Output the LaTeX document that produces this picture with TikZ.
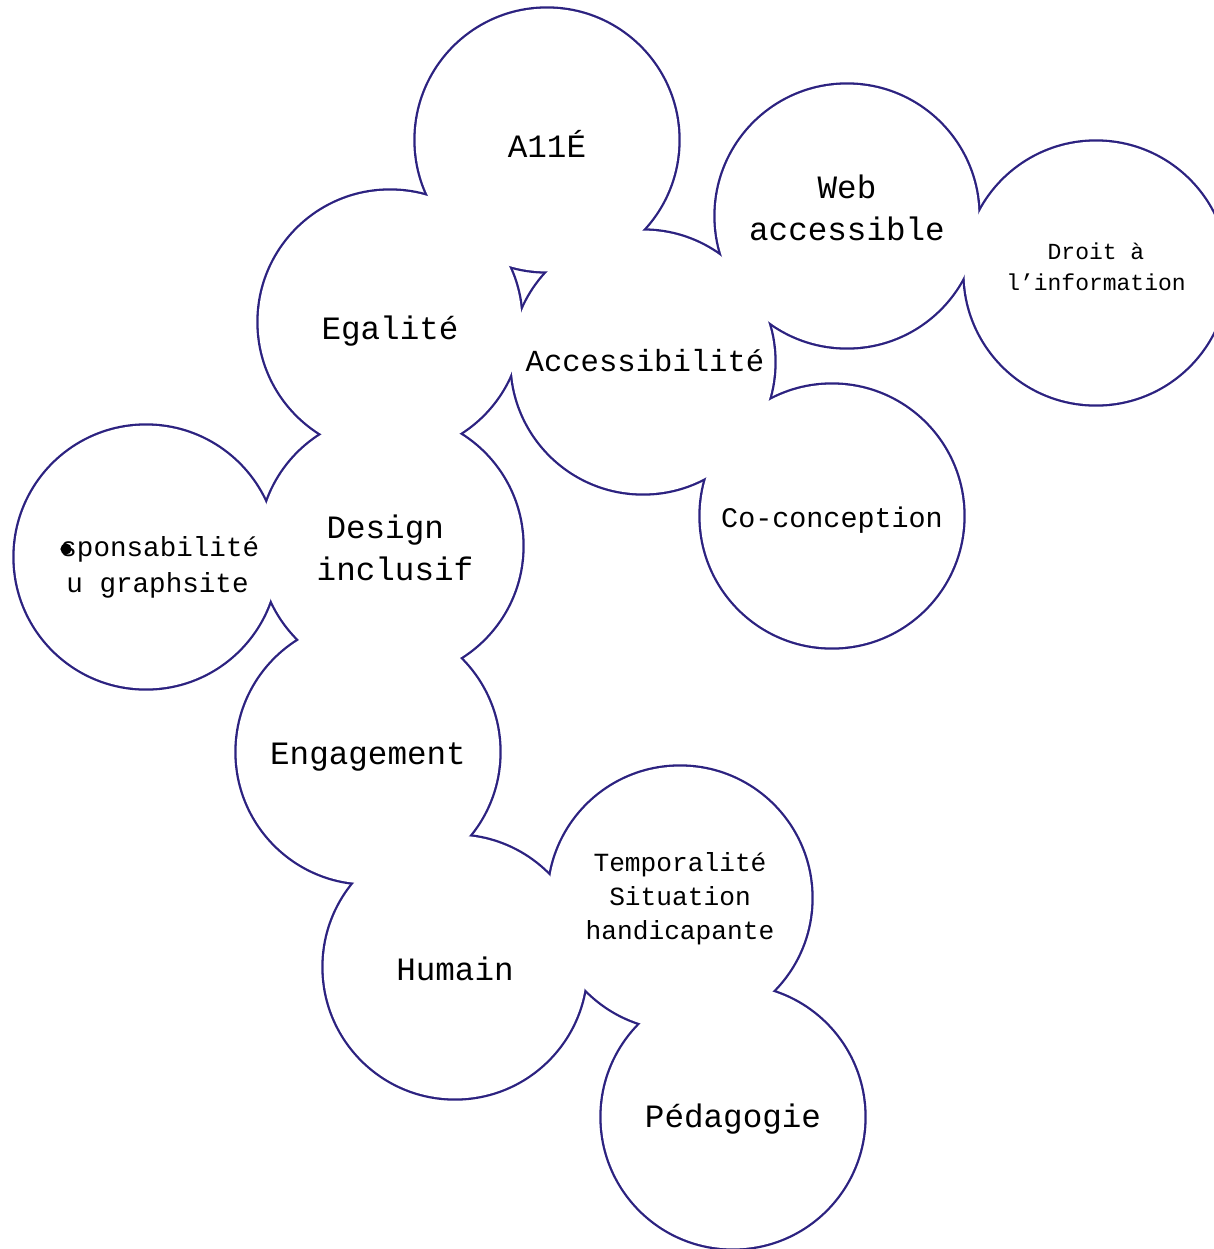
\documentclass[tikz,border=0pt]{standalone}
\usepackage{fontspec}
\setmonofont{Liberation Mono}
\pgfdeclarelayer{ring}
\pgfdeclarelayer{disc}
\pgfsetlayers{ring,disc,main}
\definecolor{indigo}{RGB}{44,34,128}
\tikzset{
  lbl/.style={font=\ttfamily\fontsize{16.3pt}{20.8pt}\selectfont, align=center, inner sep=0pt, text=black, anchor=base},
  lblm/.style={lbl, font=\ttfamily\fontsize{15.3pt}{20pt}\selectfont},
  lbls/.style={lbl, font=\ttfamily\fontsize{14.2pt}{18pt}\selectfont},
  lblr/.style={lbl, align=left, anchor=base west, font=\ttfamily\fontsize{13.8pt}{18pt}\selectfont},
  lblt/.style={lbl, font=\ttfamily\fontsize{13.1pt}{16.8pt}\selectfont},
  lbld/.style={lbl, font=\ttfamily\fontsize{11.5pt}{15.5pt}\selectfont},
  ringstroke/.style={draw=indigo, line width=2.3pt},
  discfill/.style={fill=white}
}
\begin{document}
\begin{tikzpicture}[x=0.5pt,y=-0.5pt]
\useasboundingbox (0,0) rectangle (1214,1249);
\clip (0,0) rectangle (1214,1249);
% bubble centres
\coordinate (cA)  at (547,140);
\coordinate (cW)  at (847,216);
\coordinate (cD)  at (1096,273);
\coordinate (cE)  at (390,322);
\coordinate (cAc) at (643,362);
\coordinate (cC)  at (832,516);
\coordinate (cDi) at (391,546);
\coordinate (cR)  at (146,557);
\coordinate (cEn) at (368,752);
\coordinate (cT)  at (680,898);
\coordinate (cH)  at (455,967);
\coordinate (cP)  at (733,1117);
\begin{pgfonlayer}{ring}
\fill[white] (0,0) rectangle (1214,1249);
\foreach \c in {cA,cW,cD,cE,cAc,cC,cDi,cR,cEn,cT,cH,cP}
  \draw[ringstroke] (\c) circle[radius=65.7pt];
\end{pgfonlayer}
\begin{pgfonlayer}{disc}
\foreach \c in {cA,cW,cD,cE,cAc,cC,cDi,cR,cEn,cT,cH,cP}
  \fill[discfill] (\c) circle[radius=65.7pt];
\end{pgfonlayer}
% labels
\node[lbl]  (tA)  at (547,157) {A11É};
\node[lbl]  (tW)  at (847,240) {Web\\accessible};
\node[lbld] (tD)  at (1096,290) {Droit à\\l’information};
\node[lbl]  (tE)  at (390,339) {Egalité};
\node[lblm] (tAc) at (645,371) {Accessibilité};
\node[lbls] (tC)  at (832,527) {Co-conception};
\node[lbl]  (tDi) at (395,580) {Design\phantom{x}\\inclusif};
\node[lblr] (tR)  at (60,592) {sponsabilité\\\hspace*{3pt}u graphsite};
\fill[black] (66,549) ellipse[x radius=2.8pt, y radius=2.8pt];
\node[lbl]  (tEn) at (368,764) {Engagement};
\node[lblt] (tT)  at (680,939) {Temporalité\\Situation\\handicapante};
\node[lbl]  (tH)  at (455,980) {Humain};
\node[lbl]  (tP)  at (733,1127) {Pédagogie};
\end{tikzpicture}
\end{document}
